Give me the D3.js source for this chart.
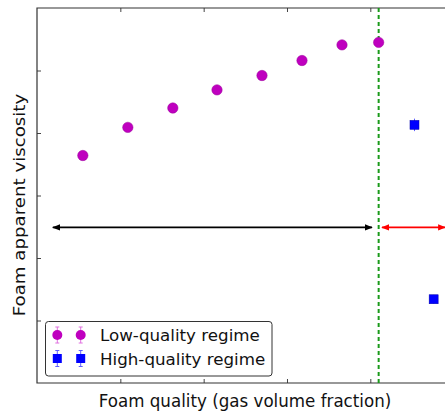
<!DOCTYPE html>
<html><head><meta charset="utf-8">
<script src="https://cdn.jsdelivr.net/npm/d3@7"></script>
<style>body{margin:0;background:#fff}text{font-family:"DejaVu Sans",sans-serif;fill:#111}</style>
</head><body><svg id="c" width="445" height="414"></svg>
<script>
// Data (arbitrary units: one tick interval = 1 unit)
const lowX = [0.55, 1.09, 1.63, 2.16, 2.70, 3.18, 3.66, 4.10];
const lowY = [3.64, 4.09, 4.40, 4.69, 4.92, 5.16, 5.41, 5.45];
const lowErr = [0.05, 0.05, 0.05, 0.05, 0.05, 0.05, 0.05, 0.05];
const highX = [4.53, 4.76];
const highY = [4.13, 1.34];
const highErr = [0.1, 0.07];
const transitionX = 4.10;
const lowArrow = [0.19, 4.02];
const highArrow = [4.14, 4.90];
const arrowY = 2.49;
const xTicks = [1, 2, 3, 4, 5];
const yTicks = [1, 2, 3, 4, 5];
const seriesNames = ["Low-quality regime", "High-quality regime"];
const xLabel = "Foam quality (gas volume fraction)";
const yLabel = "Foam apparent viscosity";

const svg = d3.select("#c");
const mLeft = 37, mTop = 8, mBottom = 383;
const x = d3.scaleLinear().domain([0, 6]).range([mLeft, mLeft + 6 * 83.33]);
const y = d3.scaleLinear().domain([0, 6]).range([mBottom, mTop]);

const defs = svg.append("defs");
function marker(id, color) {
  defs.append("marker").attr("id", id).attr("viewBox", "0 0 10 10")
    .attr("refX", 9).attr("refY", 5).attr("markerWidth", 5).attr("markerHeight", 5)
    .attr("orient", "auto-start-reverse")
    .append("path").attr("d", "M0,1 L10,5 L0,9 Z").attr("fill", color);
}
marker("ab", "#000");
marker("ar", "#ff0000");

// axes
const ax = svg.append("g");
ax.append("g").attr("transform", `translate(0,${mBottom})`)
  .call(d3.axisBottom(x).tickValues(xTicks).tickSize(-4).tickFormat(""));
ax.append("g").attr("transform", `translate(0,${mTop})`)
  .call(d3.axisTop(x).tickValues(xTicks).tickSize(-4).tickFormat(""));
ax.append("g").attr("transform", `translate(${mLeft},0)`)
  .call(d3.axisLeft(y).tickValues(yTicks).tickSize(-4).tickFormat(""));
ax.selectAll(".domain").remove();
ax.selectAll("line").attr("stroke", "#444").attr("stroke-width", 1);
// spines
svg.append("path").attr("d", `M${x(6)},${mTop}H${mLeft}V${mBottom}H${x(6)}`)
  .attr("fill", "none").attr("stroke", "#333").attr("stroke-width", 1.2);

// transition line
svg.append("line").attr("x1", x(transitionX)).attr("x2", x(transitionX))
  .attr("y1", y(6)).attr("y2", y(0))
  .attr("stroke", "#1a9a1a").attr("stroke-width", 2).attr("stroke-dasharray", "4,3");

// arrows
svg.append("line").attr("x1", x(lowArrow[0])).attr("x2", x(lowArrow[1]))
  .attr("y1", y(arrowY)).attr("y2", y(arrowY)).attr("stroke", "#000").attr("stroke-width", 1.6)
  .attr("marker-start", "url(#ab)").attr("marker-end", "url(#ab)");
svg.append("line").attr("x1", x(highArrow[0])).attr("x2", x(highArrow[1]))
  .attr("y1", y(arrowY)).attr("y2", y(arrowY)).attr("stroke", "#ff0000").attr("stroke-width", 1.6)
  .attr("marker-start", "url(#ar)").attr("marker-end", "url(#ar)");

// low-quality points
const low = lowX.map((v, i) => ({x: v, y: lowY[i], e: lowErr[i]}));
svg.append("g").selectAll("line").data(low).join("line")
  .attr("x1", d => x(d.x)).attr("x2", d => x(d.x))
  .attr("y1", d => y(d.y - d.e)).attr("y2", d => y(d.y + d.e))
  .attr("stroke", "#e070e0").attr("stroke-width", 1);
svg.append("g").selectAll("circle").data(low).join("circle")
  .attr("cx", d => x(d.x)).attr("cy", d => y(d.y)).attr("r", 5.2)
  .attr("fill", "#bf00bf").attr("stroke", "#9a009a").attr("stroke-width", 0.5);

// high-quality points
const high = highX.map((v, i) => ({x: v, y: highY[i], e: highErr[i]}));
svg.append("g").selectAll("line").data(high).join("line")
  .attr("x1", d => x(d.x)).attr("x2", d => x(d.x))
  .attr("y1", d => y(d.y - d.e)).attr("y2", d => y(d.y + d.e))
  .attr("stroke", "#6060ff").attr("stroke-width", 1);
svg.append("g").selectAll("rect").data(high).join("rect")
  .attr("x", d => x(d.x) - 4.5).attr("y", d => y(d.y) - 4.5).attr("width", 9).attr("height", 9)
  .attr("fill", "#0000ff").attr("stroke", "#0000aa").attr("stroke-width", 0.5);

// labels
svg.append("text").attr("transform", "translate(245,406.5) scale(1,1.08)").attr("text-anchor", "middle")
  .attr("font-size", 16.7).text(xLabel);
svg.append("text").attr("transform", `translate(25,205) rotate(-90) scale(1.09,1)`).attr("text-anchor", "middle")
  .attr("font-size", 16.7).text(yLabel);

// legend
const lg = svg.append("g");
lg.append("rect").attr("x", 45.5).attr("y", 321.5).attr("width", 226.5).attr("height", 54.5)
  .attr("rx", 3).attr("fill", "#fff").attr("stroke", "#333").attr("stroke-width", 1);
const legendRows = [
  {name: seriesNames[0], cy: 335, shape: "circle", fill: "#bf00bf", err: "#e070e0"},
  {name: seriesNames[1], cy: 358.5, shape: "square", fill: "#0000ff", err: "#6060ff"}
];
legendRows.forEach(r => {
  [57.3, 80.7].forEach(mx => {
    lg.append("line").attr("x1", mx).attr("x2", mx).attr("y1", r.cy - 8).attr("y2", r.cy + 8)
      .attr("stroke", r.err).attr("stroke-width", 1);
    lg.append("line").attr("x1", mx - 2).attr("x2", mx + 2).attr("y1", r.cy - 8).attr("y2", r.cy - 8)
      .attr("stroke", r.err).attr("stroke-width", 1);
    lg.append("line").attr("x1", mx - 2).attr("x2", mx + 2).attr("y1", r.cy + 8).attr("y2", r.cy + 8)
      .attr("stroke", r.err).attr("stroke-width", 1);
    if (r.shape === "circle") lg.append("circle").attr("cx", mx).attr("cy", r.cy).attr("r", 5).attr("fill", r.fill);
    else lg.append("rect").attr("x", mx - 4.5).attr("y", r.cy - 4.5).attr("width", 9).attr("height", 9).attr("fill", r.fill);
  });
  lg.append("text").attr("x", 100).attr("y", r.cy + 6.3).attr("font-size", 16.7).text(r.name);
});
</script></body></html>
